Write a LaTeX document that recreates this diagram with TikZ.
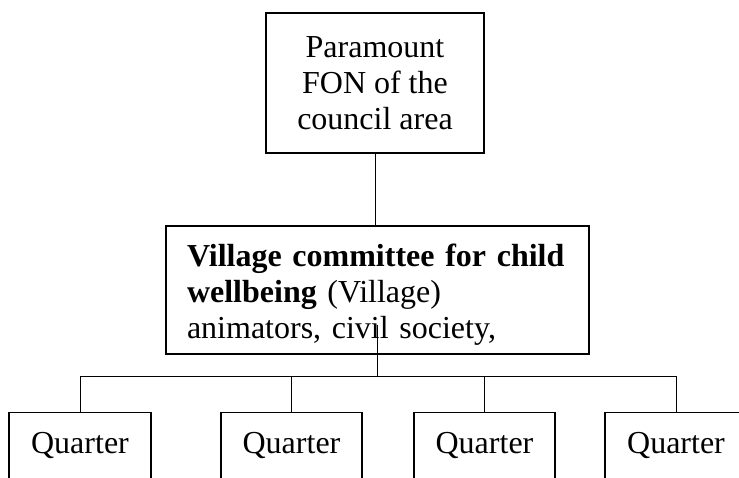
\documentclass[tikz,border=0pt]{standalone}
\usepackage{fontspec}
\setmainfont{Liberation Serif}
\usetikzlibrary{positioning, calc}

\tikzset{
  orgbox/.style={draw, line width=1.3pt, inner sep=0pt, font=\fontsize{32}{36}\selectfont},
  link/.style={line width=1pt}
}

\begin{document}
\begin{tikzpicture}[x=1pt, y=-1pt]
  \useasboundingbox (0,0) rectangle (739,477);
  \clip (0,0) rectangle (739,477);

  % Paramount
  \node[orgbox, minimum width=218pt, minimum height=140pt, align=center] (fon) at (375, 83) {Paramount\\FON of the\\council area};

  % Village committee
  \node[orgbox, minimum width=423pt, minimum height=128pt, text width=381pt, align=left] (vcom) at (377.5, 290) {\rule{0pt}{32pt}\mbox{\textbf{Village committee for child}}\\\textbf{wellbeing} (Village)\\animators, civil society,};

  % Quarters
  \node[orgbox, anchor=north, minimum width=142pt, text height=41pt, text depth=70pt] (q1) at (80, 412) {Quarter};
  \node[orgbox, anchor=north, minimum width=141pt, text height=41pt, text depth=70pt] (q2) at (291.5, 412) {Quarter};
  \node[orgbox, anchor=north, minimum width=141pt, text height=41pt, text depth=70pt] (q3) at (484.5, 412) {Quarter};
  \node[orgbox, anchor=north, minimum width=142pt, text height=41pt, text depth=70pt] (q4) at (676, 412) {Quarter};

  % Links
  \coordinate (vin) at (377, 325);
  \coordinate (bar) at (377, 376);
  \draw[link] (fon.south) -- (fon.south |- vcom.north);
  \draw[link] (vin) -- (bar);
  \draw[link] (q1.north) -- (q1.north |- bar) -| (q4.north);
  \foreach \q in {q2, q3}
    \draw[link] (\q.north) -- (\q.north |- bar);
\end{tikzpicture}
\end{document}
